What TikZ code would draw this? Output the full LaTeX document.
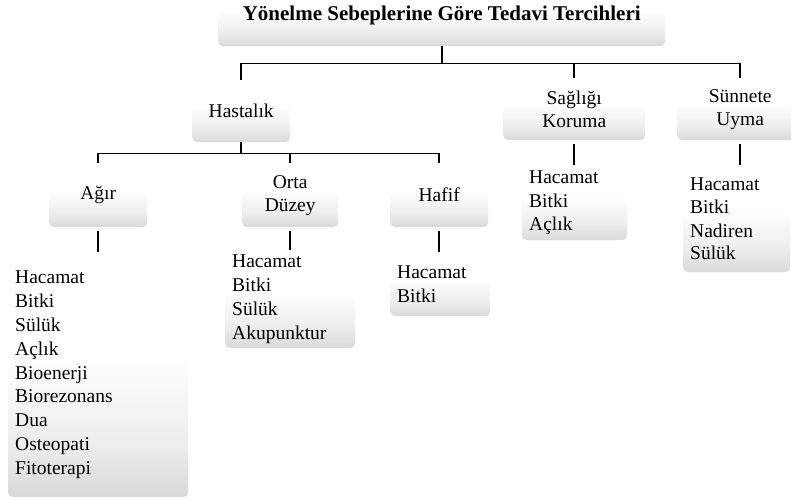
\documentclass[tikz,border=0pt]{standalone}
\usepackage{fontspec}
\setmainfont{Liberation Serif}
\usepackage{tikz}
\usetikzlibrary{positioning, calc}

\pgfdeclareverticalshading{boxfade}{100bp}{color(0bp)=(black!15); color(25bp)=(black!15);
  color(36bp)=(black!7); color(54bp)=(white); color(100bp)=(white)}

\tikzset{
  headbox/.style={anchor=north west, rounded corners=5pt, shading=boxfade,
    align=center, inner sep=0pt, font=\fontsize{19.5}{23}\selectfont},
  listbox/.style={anchor=north west, rounded corners=5pt, shading=boxfade,
    align=left, inner xsep=7pt, inner ysep=0pt, text width=#1, font=\fontsize{19.5}{23.8}\selectfont},
  conn/.style={line width=1.6pt, black}
}

\begin{document}
\begin{tikzpicture}[x=1pt, y=-1pt]
        \useasboundingbox (0,0) rectangle (791,499);

        % Title and first level
        \node[headbox, minimum width=447pt, minimum height=62pt, font=\fontsize{21}{25}\selectfont\bfseries] (title) at (218,-16) {Yönelme Sebeplerine Göre Tedavi Tercihleri};
        \node[headbox, minimum width=98pt, minimum height=62pt] (hast) at (192,80) {Hastalık};
        \node[headbox, minimum width=142pt, minimum height=62pt] (koruma) at (503,78) {Sağlığı\\Koruma};
        \node[headbox, minimum width=126pt, minimum height=62pt] (sunnet) at (677,78) {Sünnete\\Uyma};

        % Second level
        \node[headbox, minimum width=98pt, minimum height=64pt] (agir) at (49,163) {Ağır};
        \node[headbox, minimum width=96pt, minimum height=64pt] (orta) at (242,163) {Orta\\Düzey};
        \node[headbox, minimum width=98pt, minimum height=64pt] (hafif) at (390,163) {Hafif};

        % Lists
        \node[listbox=166pt, minimum height=245pt] (agirL) at (8,252)
          {Hacamat\\Bitki\\Sülük\\Açlık\\Bioenerji\\Biorezonans\\Dua\\Osteopati\\Fitoterapi};
        \node[listbox=116pt, minimum height=98pt] (ortaL) at (225,250)
          {Hacamat\\Bitki\\Sülük\\Akupunktur};
        \node[listbox=86pt, minimum height=64pt] (hafifL) at (390,252)
          {Hacamat\\Bitki};
        \node[listbox=91pt, minimum height=75pt] (korumaL) at (522,165)
          {Hacamat\\Bitki\\Açlık};
        \node[listbox=93pt, minimum height=107pt] (sunnetL) at (683,165)
          {Hacamat\\Bitki\\Nadiren\\[-1.8pt]Sülük};

        % Connectors
        \draw[conn] (title.south) -- ++(0,17) -| (hast.north);
        \draw[conn] (title.south) ++(0,17) -| (koruma.north);
        \draw[conn] (title.south) ++(0,17) -| (sunnet.north);
        \draw[conn] (hast.south) -- ++(0,11) -| (agir.north);
        \draw[conn] (hast.south) ++(0,11) -| (orta.north);
        \draw[conn] (hast.south) ++(0,11) -| (hafif.north);
        \draw[conn, shorten <=4pt] (agir.south) -- (agir.south |- agirL.north);
        \draw[conn, shorten <=4pt] (orta.south) -- (orta.south |- ortaL.north);
        \draw[conn, shorten <=4pt] (hafif.south) -- (hafif.south |- hafifL.north);
        \draw[conn, shorten <=4pt] (koruma.south) -- (koruma.south |- korumaL.north);
        \draw[conn, shorten <=4pt] (sunnet.south) -- (sunnet.south |- sunnetL.north);
\end{tikzpicture}
\end{document}
